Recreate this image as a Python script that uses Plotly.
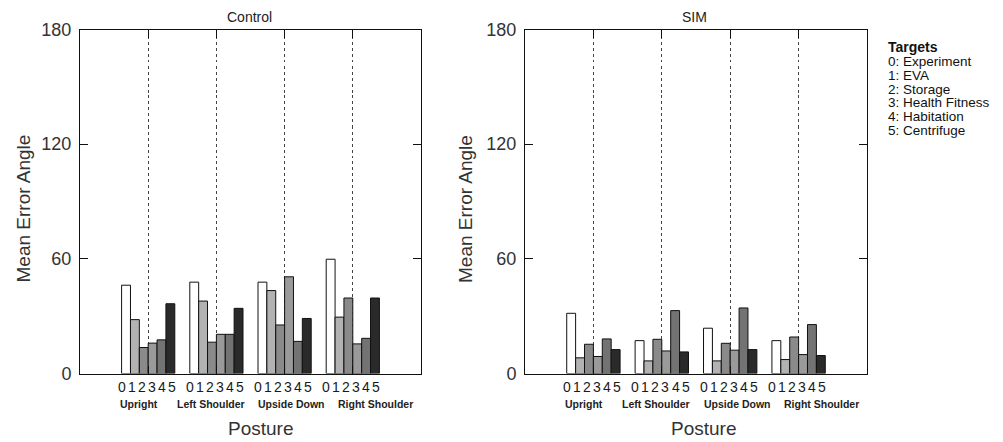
import plotly.graph_objects as go

postures = ["Upright", "Left Shoulder", "Upside Down", "Right Shoulder"]
targets = ["0: Experiment", "1: EVA", "2: Storage", "3: Health Fitness", "4: Habitation", "5: Centrifuge"]
target_codes = ["0", "1", "2", "3", "4", "5"]

# values[target][posture]
control = [
    [46.2, 47.8, 47.8, 59.8],
    [28.2, 37.9, 43.4, 29.5],
    [13.6, 16.4, 25.4, 39.5],
    [15.9, 20.5, 50.6, 15.5],
    [17.6, 20.5, 16.8, 18.4],
    [36.5, 34.1, 28.8, 39.5],
]
sim = [
    [31.5, 17.2, 23.7, 17.2],
    [8.2, 6.6, 6.6, 7.3],
    [15.3, 17.9, 15.8, 19.1],
    [8.9, 11.8, 12.2, 9.9],
    [18.1, 32.9, 34.3, 25.6],
    [12.5, 11.3, 12.5, 9.4],
]
panel_titles = ["Control", "SIM"]
y_ticks = [0, 60, 120, 180]

colors = ["#ffffff", "#b2b2b2", "#8a8a8a", "#9a9a9a", "#737373", "#2a2a2a"]
FONT = "Liberation Sans, Arial, sans-serif"
W, H = 1003, 442

group_pos = [i + 1 for i in range(len(postures))]
# posture-name label centres (axis units), as laid out in the original
label_pos = [0.86, 1.92, 3.1, 4.33]
bargap = 0.22
bar_w = (1 - bargap) / len(targets)

fig = go.Figure()
panels = [control, sim]
xdom = [[80 / W, 421 / W], [525 / W, 867 / W]]
ydom = [1 - 373.5 / H, 1 - 29.5 / H]

for p, data in enumerate(panels):
    xa = "x" if p == 0 else "x2"
    ya = "y" if p == 0 else "y2"
    for t in range(len(targets)):
        fig.add_trace(go.Bar(
            x=group_pos, y=data[t], name=targets[t], xaxis=xa, yaxis=ya,
            marker=dict(color=colors[t], line=dict(color="#111", width=1)),
            showlegend=False, hoverinfo="y",
        ))
    # digit labels under bars
    for gi, g in enumerate(group_pos):
        for t in range(len(targets)):
            fig.add_annotation(
                x=g - 0.02 + (t - (len(targets) - 1) / 2) * bar_w * 1.13, xref=xa,
                y=1 - 387 / H, yref="paper", text=target_codes[t], showarrow=False,
                font=dict(family=FONT, size=14, color="#1a1a1a"),
                xanchor="center", yanchor="middle",
            )
        fig.add_annotation(
            x=label_pos[gi], xref=xa, y=1 - 404 / H, yref="paper",
            text="<b>" + postures[gi] + "</b>",
            showarrow=False, font=dict(family=FONT, size=10.5, color="#222"),
            xanchor="center", yanchor="middle",
        )
    cx = [260, 703][p]
    fig.add_annotation(x=cx / W, xref="paper", y=1 - 428 / H, yref="paper", text="Posture",
                       showarrow=False, font=dict(family=FONT, size=19, color="#333"),
                       xanchor="center", yanchor="middle")
    tx = [249, 694][p]
    fig.add_annotation(x=tx / W, xref="paper", y=1 - 17 / H, yref="paper", text=panel_titles[p],
                       showarrow=False, font=dict(family=FONT, size=14, color="#222"),
                       xanchor="center", yanchor="middle")
    yx = [22.5, 465][p]
    fig.add_annotation(x=yx / W, xref="paper", y=1 - 209 / H, yref="paper", text="Mean Error Angle",
                       textangle=-90, showarrow=False, font=dict(family=FONT, size=19, color="#333"),
                       xanchor="center", yanchor="middle")

axis_common_x = dict(
    range=[0, len(postures) + 1], tickvals=group_pos, showticklabels=False,
    ticks="inside", ticklen=8, tickcolor="#111", mirror="ticks",
    showline=True, linecolor="#111", linewidth=1,
    showgrid=True, gridcolor="#444", griddash="dot", gridwidth=1, zeroline=False,
    fixedrange=True, automargin=False,
)
axis_common_y = dict(
    range=[0, 180], tickvals=y_ticks, ticks="inside", ticklen=8, tickcolor="#111",
    mirror="ticks", showline=True, linecolor="#111", linewidth=1,
    showgrid=False, zeroline=False, tickfont=dict(family=FONT, size=18, color="#333"),
    ticklabelstandoff=4, fixedrange=True, automargin=False,
)

fig.update_layout(
    width=W, height=H, margin=dict(l=0, r=0, t=0, b=0, pad=0, autoexpand=False),
    paper_bgcolor="white", plot_bgcolor="white",
    barmode="group", bargap=bargap, bargroupgap=0,
    xaxis=dict(domain=xdom[0], anchor="y", **axis_common_x),
    xaxis2=dict(domain=xdom[1], anchor="y2", **axis_common_x),
    yaxis=dict(domain=ydom, anchor="x", **axis_common_y),
    yaxis2=dict(domain=ydom, anchor="x2", **axis_common_y),
    showlegend=False,
)

# legend text block
fig.add_annotation(x=886 / W, xref="paper", y=1 - 47 / H, yref="paper", text="<b>Targets</b>",
                   showarrow=False, font=dict(family=FONT, size=14, color="#111"),
                   xanchor="left", yanchor="middle")
for i, name in enumerate(targets):
    fig.add_annotation(x=886 / W, xref="paper", y=1 - (61.5 + i * 13.8) / H, yref="paper", text=name,
                       showarrow=False, font=dict(family=FONT, size=13.5, color="#111"),
                       xanchor="left", yanchor="middle")

fig.write_html("out.html", config={"displayModeBar": False},
               post_script="document.body.style.margin='0';document.body.style.overflow='hidden';")
